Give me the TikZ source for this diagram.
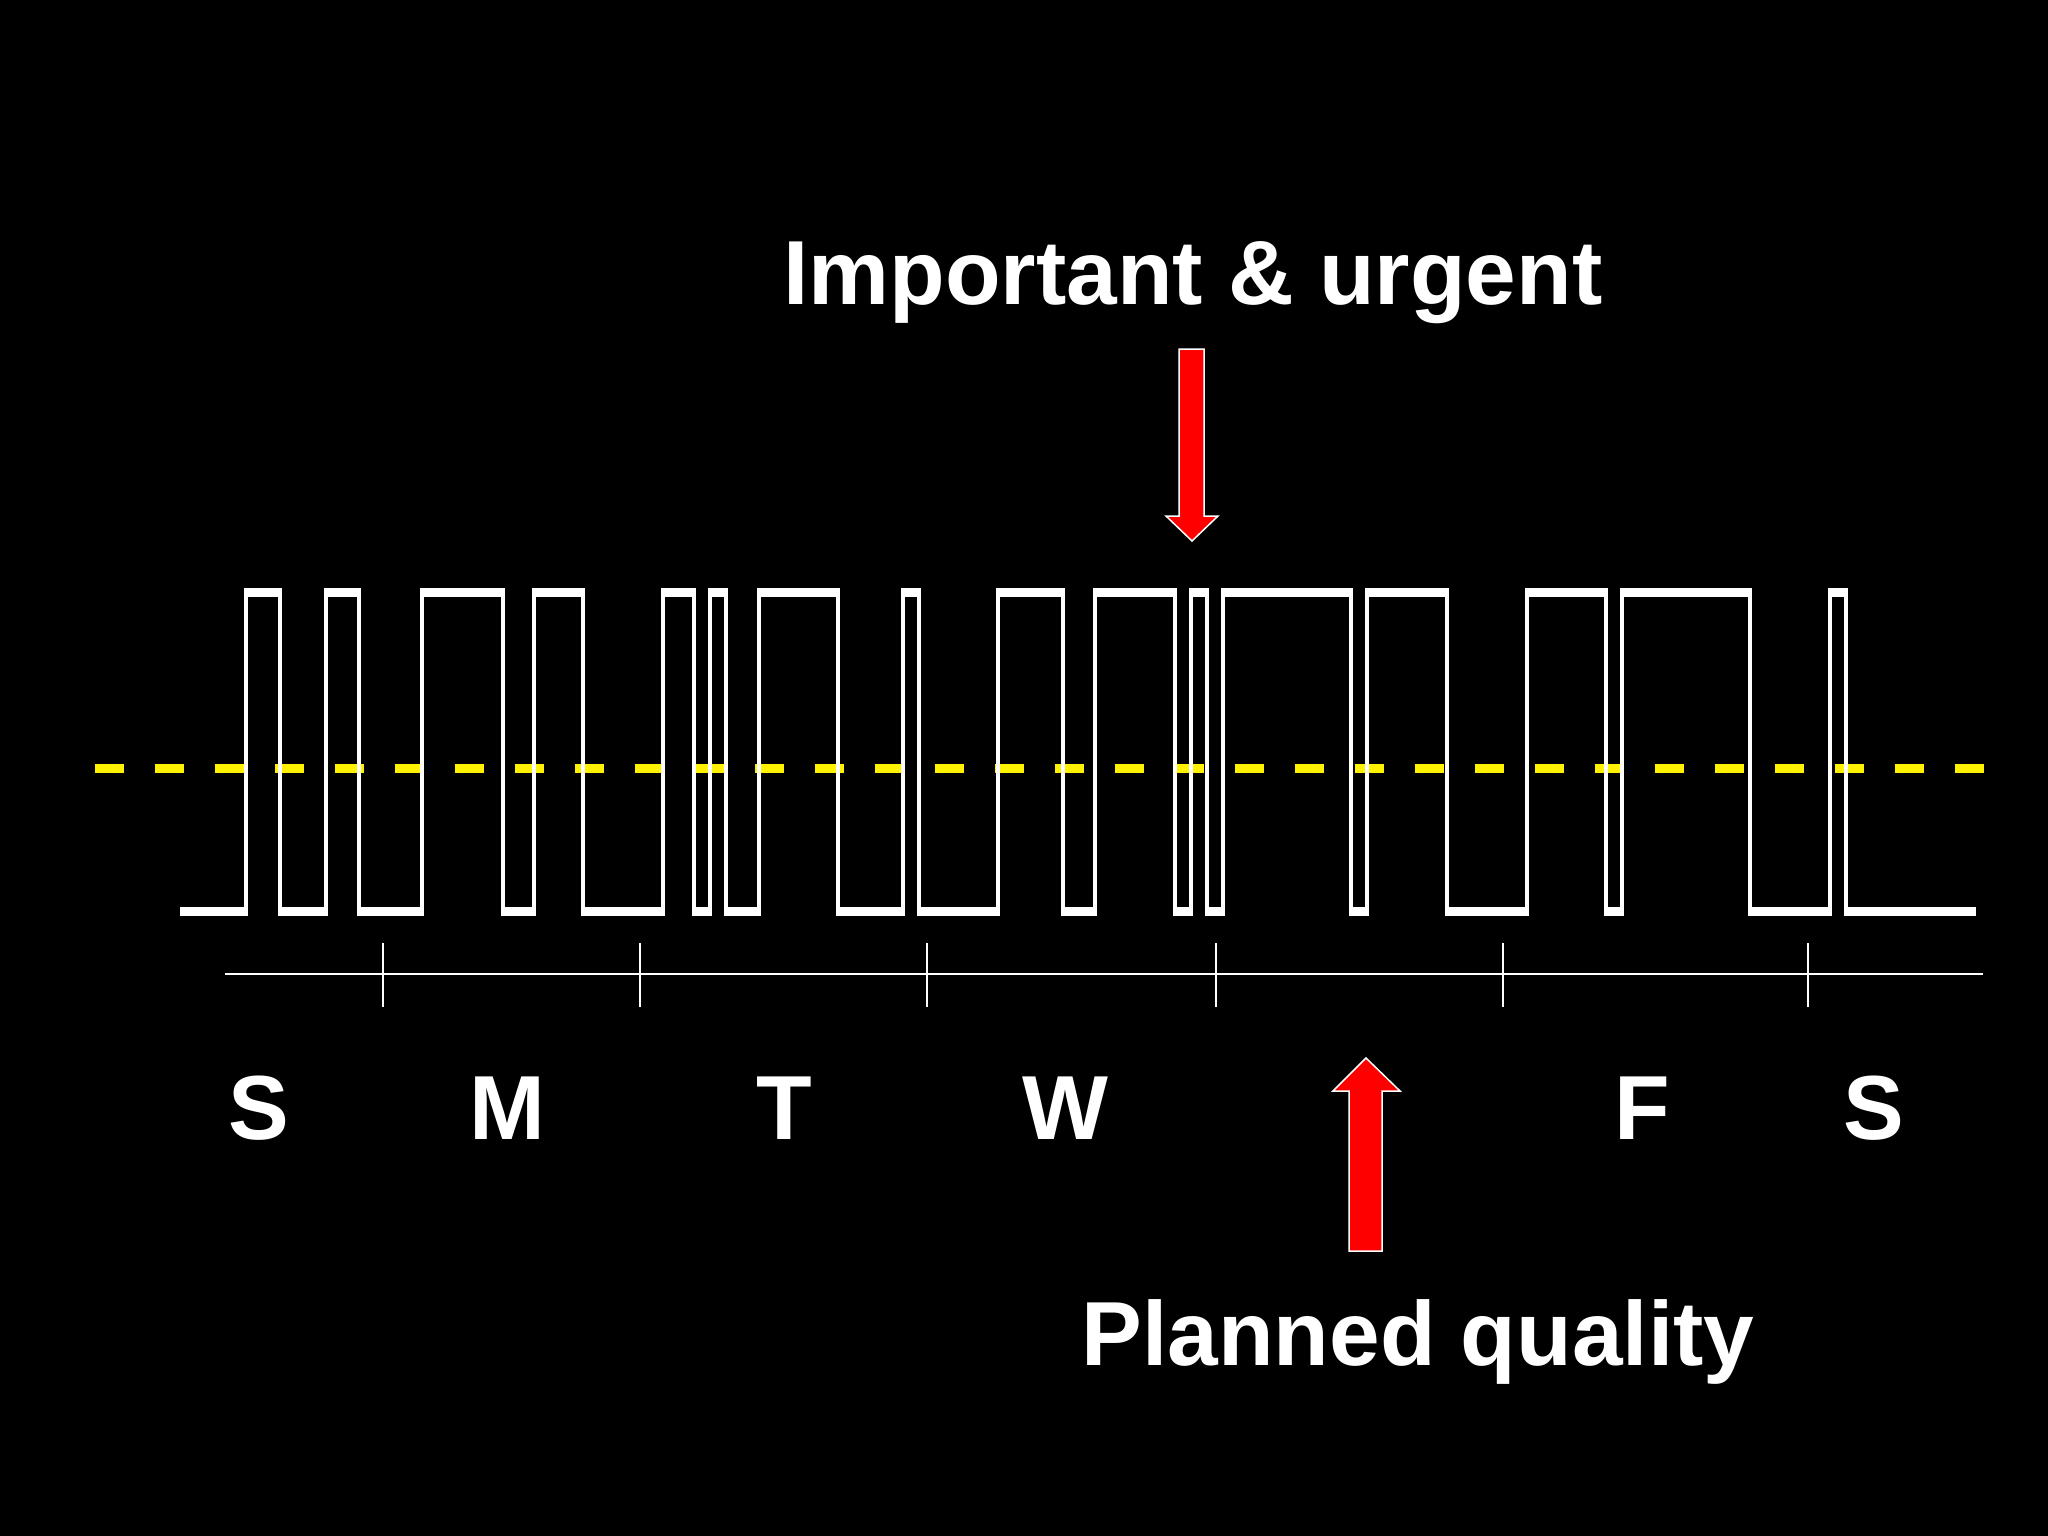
\documentclass[tikz,border=0pt]{standalone}
\usepackage{fontspec}
\setmainfont{Liberation Sans}
\begin{document}
\begin{tikzpicture}[x=1pt,y=-1pt,
  lbl/.style={text=white,font=\bfseries\fontsize{91}{100}\selectfont,anchor=base,inner sep=0pt},
  wave/.style={white,line width=4.5pt,line join=miter},
  bar/.style={white,line width=9pt},
  blockarrow/.style={fill=red,draw=white,line width=1.5pt,line join=miter}]
\fill[black] (0,0) rectangle (2048,1536);
\useasboundingbox (0,0) rectangle (2048,1536);
% yellow threshold
\draw[yellow,line width=9pt,dash pattern=on 29pt off 31pt] (95,768) -- (1984,768);
% waveform
\draw[wave] (182,911) -| (246,592) -| (280,911) -| (326,592) -| (359,911) -| (422,592) -| (503,911)
 -| (534,592) -| (583,911) -| (663,592) -| (694,911) -| (710,592) -| (726,911) -| (759,592)
 -| (838,911) -| (903,592) -| (919,911) -| (998,592) -| (1063,911) -| (1095,592) -| (1175,911)
 -| (1191,592) -| (1207,911) -| (1223,592) -| (1351,911) -| (1367,592) -| (1447,911) -| (1527,592)
 -| (1606,911) -| (1622,592) -| (1750,911) -| (1830,592) -| (1846,911) -- (1974,911);
\foreach \a/\b in {182/246,280/326,359/422,503/534,583/663,694/710,726/759,838/903,919/998,1063/1095,1175/1191,1207/1223,1351/1367,1447/1527,1606/1622,1750/1830,1846/1974}
  \draw[bar] (\a-2,911) -- (\b+2,911);
\foreach \a/\b in {246/280,326/359,422/503,534/583,663/694,710/726,759/838,903/919,998/1063,1095/1175,1191/1207,1223/1351,1367/1447,1527/1606,1622/1750,1830/1846}
  \draw[bar] (\a-2,592) -- (\b+2,592);
% axis
\coordinate (axs) at (225,974);
\coordinate (axe) at (1983,974);
\draw[white,line width=2pt] (axs) -- (axe);
\foreach \t in {383,640,927,1216,1503,1808}
  \draw[white,line width=2pt] (\t,943) -- (\t,1007);
% day labels
\node[lbl] (d1) at (259,1139) {S};
\node[lbl] (d2) at (507,1139) {M};
\node[lbl] (d3) at (784,1139) {T};
\node[lbl] (d4) at (1065,1139) {W};
\node[lbl] (d5) at (1642,1139) {F};
\node[lbl] (d6) at (1874,1139) {S};
% titles
\node[lbl] (imp) at (1193,304) {Important \& urgent};
\node[lbl] (plan) at (1418,1365) {Planned quality};
% arrows
\draw[blockarrow] (1179,349) -- (1204,349) -- (1204,516) -- (1218,516) -- (1192,541) -- (1166,516) -- (1179,516) -- cycle;
\draw[blockarrow] (1349,1251) -- (1382,1251) -- (1382,1091) -- (1400,1091) -- (1366,1058) -- (1333,1091) -- (1349,1091) -- cycle;
\end{tikzpicture}
\end{document}
